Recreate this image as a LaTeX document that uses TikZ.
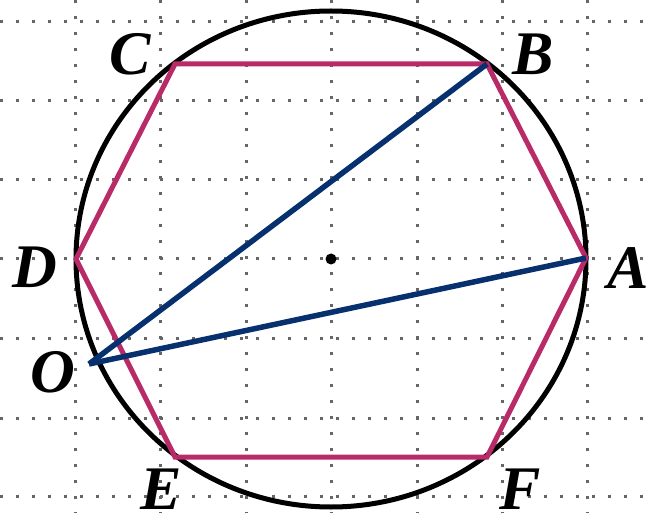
\documentclass[tikz,border=0pt]{standalone}
\usepackage{fontspec}
\setmainfont{Liberation Serif}
\usetikzlibrary{positioning}
\definecolor{gridDot}{HTML}{666666}
\definecolor{hexEdge}{HTML}{B82A68}
\definecolor{chordBlue}{HTML}{06306E}
\tikzset{
  gridline/.style={gridDot, line width=3pt, dash pattern=on 3pt off 13pt},
  circleline/.style={black, line width=5pt},
  hexline/.style={hexEdge, line width=5pt, line join=miter},
  chord/.style={chordBlue, line width=5.5pt},
  ptlabel/.style={font=\fontsize{62}{62}\selectfont\bfseries\itshape, inner sep=0pt},
}
\begin{document}
\begin{tikzpicture}[x=1pt, y=-1pt]
  \useasboundingbox (0,0) rectangle (648,513);

  % === Dotted grid ===
  \foreach \gx in {75,160.5,246,331.5,417,502,587}
    \draw[gridline] (\gx,0) -- (\gx,513);
  \foreach \gy in {22,101,180,259,338,418,496}
    \draw[gridline] (0,\gy) -- (648,\gy);

  % === Centre and hexagon vertices ===
  \coordinate (ctr) at (331,259);
  \coordinate (vA) at (586,258);
  \coordinate (vB) at (487,64);
  \coordinate (vC) at (175,64);
  \coordinate (vD) at (76,259);
  \coordinate (vE) at (175,457);
  \coordinate (vF) at (487,457);
  \coordinate (vO) at (89,364);

  % === Circle ===
  \draw[circleline] (ctr) ellipse [x radius=255, y radius=248];

  % === Hexagon ===
  \draw[hexline] (vA) -- (vB) -- (vC) -- (vD) -- (vE) -- (vF) -- cycle;

  % === Chords from O ===
  \draw[chord] (vO) -- (vB);
  \draw[chord] (vO) -- (vA);

  % centre dot
  \fill (ctr) circle (5.5);

  % === Labels ===
  \node[ptlabel] (labA) at (628,268) {A};
  \node[ptlabel] (labB) at (533,54) {B};
  \node[ptlabel] (labC) at (130,54) {C};
  \node[ptlabel] (labD) at (35,267) {D};
  \node[ptlabel] (labE) at (161,489) {E};
  \node[ptlabel] (labF) at (520,489) {F};
  \node[ptlabel] (labO) at (53,372) {O};
\end{tikzpicture}
\end{document}
